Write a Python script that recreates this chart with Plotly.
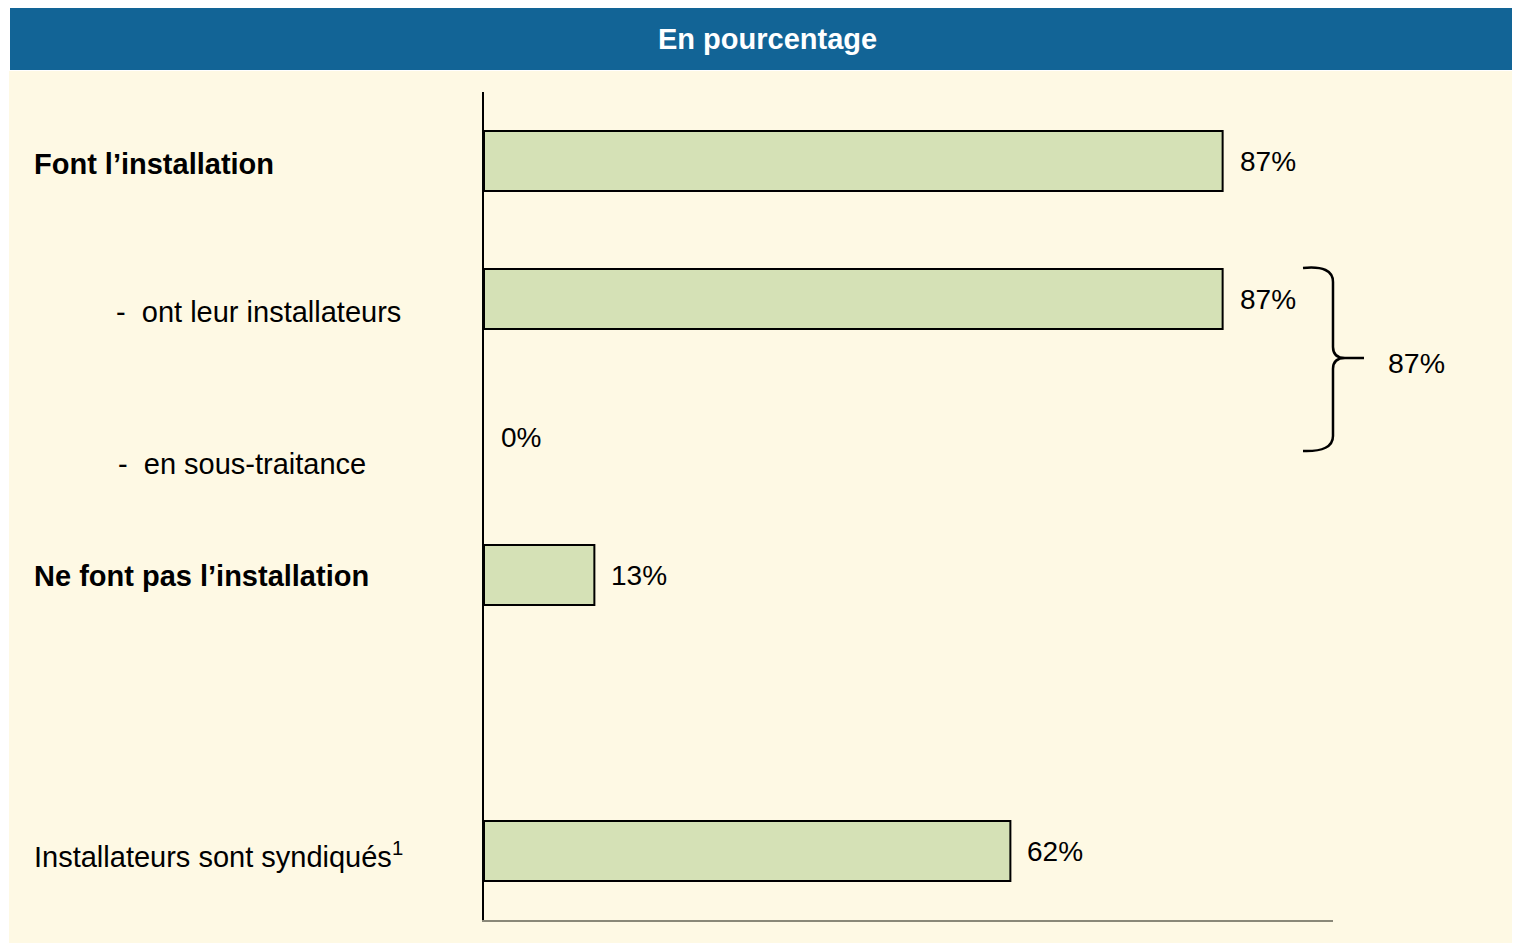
# Bar chart: share of companies that do the installation themselves (en pourcentage)

import plotly.graph_objects as go

# page is drawn with an 8px body margin, so the figure is a little smaller
OFF = 8
W, H = 1520 - OFF, 943 - OFF

# Data
categories = ["font", "ont_leur", "sous_traitance", "ne_font_pas", "vide", "syndiques"]
bar_categories = ["font", "ont_leur", "sous_traitance", "ne_font_pas", "syndiques"]
values = [87, 87, 0, 13, 62]
value_labels = ["87%", "87%", "0%", "13%", "62%"]
row_labels = [
    "<b>Font l’installation</b>",
    "-  ont leur installateurs",
    "-  en sous-traitance",
    "<b>Ne font pas l’installation</b>",
    "Installateurs sont syndiqués<sup>1</sup>",
]
brace_label = "87%"
title = "<b>En pourcentage</b>"

FONT = "Liberation Sans, Arial, sans-serif"
CREAM = "#FEF9E4"
BLUE = "#126496"
GREEN = "#D5E1B6"


def px(x):
    return (x - OFF) / W


def py(y):
    return 1 - (y - OFF) / H


fig = go.Figure(
    go.Bar(
        x=values,
        y=bar_categories,
        orientation="h",
        width=0.435,
        marker=dict(color=GREEN,
                    line=dict(color="black", width=[2 if v else 0 for v in values])),
        hoverinfo="skip",
    )
)

fig.update_layout(
    width=W,
    height=H,
    margin=dict(l=0, r=0, t=0, b=0),
    paper_bgcolor="white",
    plot_bgcolor=CREAM,
    showlegend=False,
    font=dict(family=FONT, size=29, color="black"),
)

fig.update_xaxes(
    domain=[px(484), px(1333)],
    range=[0, 100],
    showgrid=False,
    zeroline=False,
    showticklabels=False,
    ticks="",
    showline=True,
    linecolor="#8A8878",
    linewidth=2,
)

fig.update_yaxes(
    domain=[py(920), py(92)],
    type="category",
    categoryorder="array",
    categoryarray=categories,
    range=[5.5, -0.5],
    showgrid=False,
    zeroline=False,
    showticklabels=False,
    ticks="",
    showline=True,
    linecolor="black",
    linewidth=2,
)

shapes = []
# cream page and blue header band
shapes.append(dict(type="rect", xref="paper", yref="paper", layer="below",
                   x0=px(9), x1=1, y0=0, y1=py(71),
                   fillcolor=CREAM, line=dict(width=0)))
shapes.append(dict(type="rect", xref="paper", yref="paper", layer="below",
                   x0=px(10), x1=1, y0=py(70), y1=1,
                   fillcolor=BLUE, line=dict(width=0)))

# curly brace grouping the two sub rows
pts = [
    ("M", 1303, 268), ("Q", 1333, 265), ("", 1333, 282),
    ("L", 1333, 347), ("Q", 1333, 358), ("", 1345, 358),
    ("L", 1364, 358),
    ("M", 1345, 358), ("Q", 1333, 358), ("", 1333, 369),
    ("L", 1333, 436), ("Q", 1333, 452), ("", 1303, 451),
]
path = " ".join(f"{c} {px(x):.5f},{py(y):.5f}" if c else f"{px(x):.5f},{py(y):.5f}"
                for c, x, y in pts)
shapes.append(dict(type="path", xref="paper", yref="paper", path=path,
                   line=dict(color="black", width=2.5)))

annotations = [
    dict(text=title, xref="paper", yref="paper", x=px(767), y=py(39),
         showarrow=False, font=dict(family=FONT, size=29, color="white"),
         xanchor="center", yanchor="middle"),
    dict(text=brace_label, xref="paper", yref="paper", x=px(1386), y=py(363),
         showarrow=False, font=dict(family=FONT, size=28.5, color="black"),
         xanchor="left", yanchor="middle"),
]

# value labels
for cat, v, lab in zip(bar_categories, values, value_labels):
    annotations.append(dict(text=lab, x=v, y=cat, xref="x", yref="y",
                            showarrow=False, xanchor="left", yanchor="middle",
                            font=dict(family=FONT, size=28, color="black"),
                            xshift=15, yshift=0))

# row labels on the left
label_x = [32, 114, 116, 32, 32]
label_shift = [-3, -13, -27, -1, -4]
for cat, lab, lx, sh in zip(bar_categories, row_labels, label_x, label_shift):
    annotations.append(dict(text=lab, x=px(lx), y=cat, xref="paper", yref="y",
                            showarrow=False, xanchor="left", yanchor="middle",
                            font=dict(family=FONT, size=29, color="black"),
                            yshift=sh))

fig.update_layout(shapes=shapes, annotations=annotations)

fig.write_html("out.html")
